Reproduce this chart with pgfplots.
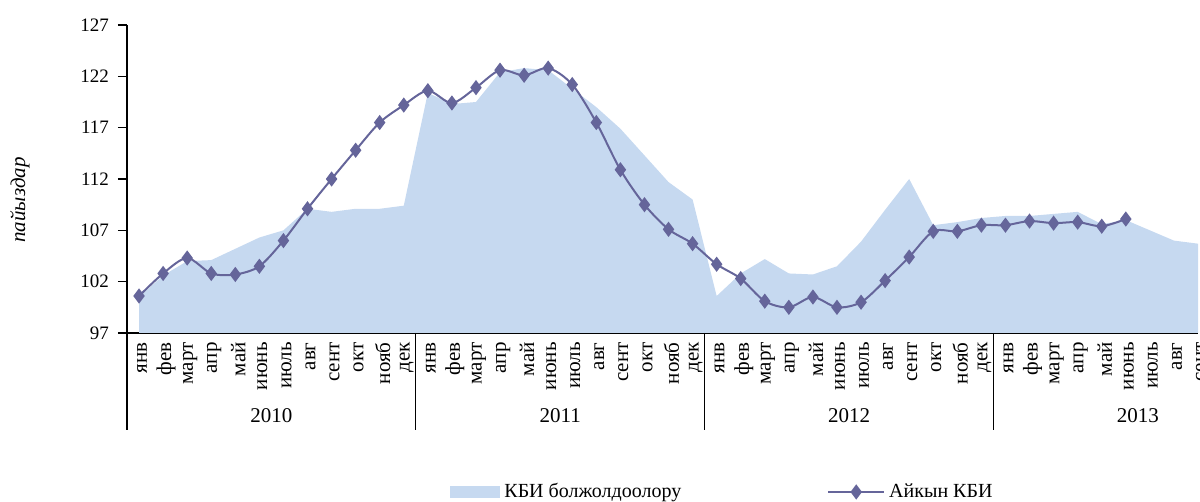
\documentclass[border=0pt]{standalone}
\usepackage{fontspec}
\setmainfont{Liberation Serif}
\usepackage{pgfplots}
\pgfplotsset{compat=1.18}
\definecolor{fcst}{HTML}{C6D9F0}
\definecolor{act}{HTML}{65659A}
\pgfplotsset{
  fcstlegend/.style={legend image code/.code={\fill[fcst] (0pt,-3pt) rectangle (25pt,3pt);}},
  actlegend/.style={legend image code/.code={\draw[##1, mark repeat=2, mark phase=2]
      plot coordinates {(0pt,0pt) (14pt,0pt) (28pt,0pt)};}},
}

\begin{document}
\begin{tikzpicture}[font=\fontsize{10.5}{12}\selectfont]
\begin{axis}[
    at={(0,0)}, anchor=south west,
    scale only axis, width=535.5pt, height=154pt,
    xmin=-0.5, xmax=44, ymin=97, ymax=127,
    ytick={97,102,...,127},
    axis x line=bottom, axis y line=left,
    axis line style={-, line width=0.6pt},
    tick align=outside, major tick length=4.5pt,
    y tick style={black, line width=0.6pt},
    x tick style={draw=none},
    xtick={0,...,44},
    xticklabels={янв,фев,март,апр,май,июнь,июль,авг,сент,окт,нояб,дек,
                 янв,фев,март,апр,май,июнь,июль,авг,сент,окт,нояб,дек,
                 янв,фев,март,апр,май,июнь,июль,авг,сент,окт,нояб,дек,
                 янв,фев,март,апр,май,июнь,июль,авг,сент},
    x tick label style={rotate=90, anchor=east, inner sep=0pt, yshift=-1.5pt},
    y tick label style={font=\fontsize{9.5}{11}\selectfont, xshift=-1pt},
    /pgf/number format/assume math mode=true,
    clip mode=individual,
    legend style={at={(0.3016,-0.516)}, anchor=west, draw=none, fill=none,
                  inner sep=0pt, legend columns=2, font=\fontsize{10}{12}\selectfont,
                  /tikz/every even column/.append style={column sep=71pt}},
    legend cell align=left,
  ]
  \addplot[fill=fcst, draw=none, fcstlegend]
    coordinates {
      (0,100.5)(1,102.6)(2,104.0)(3,104.1)(4,105.2)(5,106.3)(6,107.0)(7,109.1)
      (8,108.8)(9,109.1)(10,109.1)(11,109.4)(12,120.4)(13,119.3)(14,119.5)(15,122.4)
      (16,122.8)(17,122.6)(18,120.8)(19,119.0)(20,116.9)(21,114.3)(22,111.7)(23,110.0)
      (24,100.6)(25,102.8)(26,104.2)(27,102.8)(28,102.7)(29,103.5)(30,105.9)(31,109.0)
      (32,112.0)(33,107.5)(34,107.8)(35,108.2)(36,108.4)(37,108.4)(38,108.6)(39,108.8)
      (40,107.6)(41,108.0)(42,107.0)(43,106.0)(44,105.7)
    } \closedcycle;
  \addlegendentry{КБИ болжолдоолору}
  \addplot[act, line width=1pt, smooth, tension=0.5, mark=diamond*, mark size=3pt,
    mark options={solid, fill=act}, actlegend]
    coordinates {
      (0,100.6)(1,102.8)(2,104.3)(3,102.8)(4,102.7)(5,103.5)(6,106.0)(7,109.1)
      (8,112.0)(9,114.8)(10,117.5)(11,119.2)(12,120.6)(13,119.4)(14,120.9)(15,122.6)
      (16,122.1)(17,122.8)(18,121.2)(19,117.5)(20,112.9)(21,109.5)(22,107.1)(23,105.7)
      (24,103.7)(25,102.3)(26,100.1)(27,99.5)(28,100.5)(29,99.5)(30,100.0)(31,102.1)
      (32,104.4)(33,106.9)(34,106.9)(35,107.5)(36,107.5)(37,107.9)(38,107.7)(39,107.8)
      (40,107.4)(41,108.1)
    };
  \addlegendentry{Айкын КБИ}
  \draw[line width=0.6pt] (axis cs:-0.5,97) -- ([yshift=-48.5pt]axis cs:-0.5,97);
  \draw[line width=0.6pt] (axis cs:11.5,97) -- ([yshift=-48.5pt]axis cs:11.5,97);
  \draw[line width=0.6pt] (axis cs:23.5,97) -- ([yshift=-48.5pt]axis cs:23.5,97);
  \draw[line width=0.6pt] (axis cs:35.5,97) -- ([yshift=-48.5pt]axis cs:35.5,97);
  \node at ([yshift=-41.5pt]axis cs:5.5,97) {2010};
  \node at ([yshift=-41.5pt]axis cs:17.5,97) {2011};
  \node at ([yshift=-41.5pt]axis cs:29.5,97) {2012};
  \node at ([yshift=-41.5pt]axis cs:41.5,97) {2013};
\end{axis}
\node[rotate=90, font=\fontsize{10.5}{12}\selectfont\itshape] at (-53.5pt,66.5pt) {пайыздар};
\pgfresetboundingbox
\useasboundingbox (-63.5pt,-84.5pt) rectangle (536.5pt,166.5pt);
\end{tikzpicture}
\end{document}
